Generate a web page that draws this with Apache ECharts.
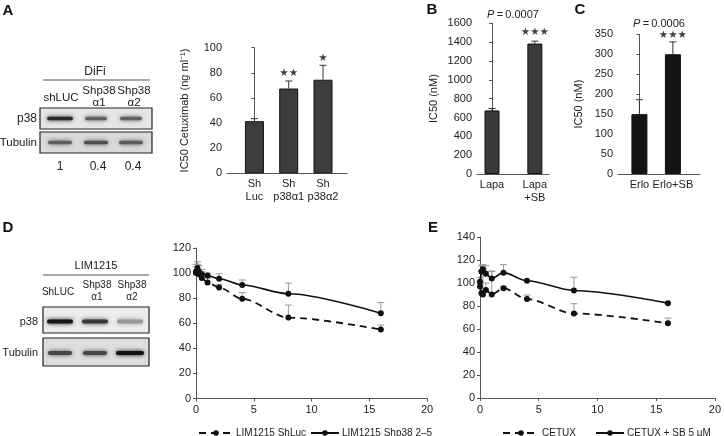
<!DOCTYPE html>
<html><head><meta charset="utf-8">
<script src="https://cdn.jsdelivr.net/npm/echarts@6/dist/echarts.min.js"></script>
<style>html,body{margin:0;padding:0;background:#fff}#c{width:724px;height:436px}</style>
</head><body><div id="c"></div>
<script>
// ---------- DATA ----------
// Panel A (DiFi) bar chart
const aCategories = ['Sh\nLuc', 'Sh\np38α1', 'Sh\np38α2'];
const aValues = [41.5, 67.5, 74.5];
const aErrTop = [43.5, 73.5, 86];
const aStars = ['', '★★', '★'];
const aStarY = [null, 80, 91.5];
// Panel B
const bCategories = ['Lapa', 'Lapa\n+SB'];
const bValues = [675, 1385];
const bErrTop = [695, 1410];
const bStars = ['', '★★★'];
const bStarY = [null, 1500];
const bPText = '0.0007';
// Panel C
const cCategories = ['Erlo', 'Erlo+SB'];
const cValues = [150, 300];
const cErrTop = [186, 331];
const cStars = ['', '★★★'];
const cStarY = [null, 348];
const cPText = '0.0006';
// Panel D (LIM1215 dose response)
const dDose = [0, 0.125, 0.25, 0.5, 1, 2, 4, 8, 16];
const dShLuc = [100, 102, 99, 96, 92.5, 88.5, 79.5, 64.5, 55];
const dShLucErr = [105, 107, 103, 101, 96, 91, 84.5, 74.5, 58.5];
const dShp38 = [101, 104, 101, 99, 98, 95.5, 90.5, 83.5, 68];
const dShp38Err = [107, 109, 106, 103, 100, 99.5, 94.5, 92, 76.5];
// Panel E
const eDose = [0, 0.125, 0.25, 0.5, 1, 2, 4, 8, 16];
const eCetux = [97, 91, 90, 94, 90, 95.5, 86, 73.5, 65];
const eCetuxErr = [101, 110, 111, 100, 110.5, 97, 89.5, 82, 69.5];
const eCetuxSB = [101, 110, 112, 108, 104, 109, 102, 93.5, 82.5];
const eCetuxSBErr = [105, 115, 116, 115, 110, 116, 102, 105, 83];
// Western blots
const difiLanes = ['shLUC', 'Shp38\nα1', 'Shp38\nα2'];
const difiP38 = [0.85, 0.6, 0.6];
const difiTub = [0.6, 0.68, 0.62];
const difiRatio = ['1', '0.4', '0.4'];
const limLanes = ['ShLUC', 'Shp38\nα1', 'Shp38\nα2'];
const limP38 = [0.95, 0.78, 0.35];
const limTub = [0.72, 0.72, 0.97];

// ---------- HELPERS ----------
const F = '"Liberation Sans", Arial, Helvetica, sans-serif';
const AX = '#555';
const graphics = [];
function txt(x, y, s, o) {
  graphics.push({type: 'text', x, y, z: 10, style: Object.assign({text: s, fill: '#222', fontFamily: F, fontSize: 11, align: 'center', verticalAlign: 'middle'}, o || {})});
}
function ln(x1, y1, x2, y2, c, w) {
  graphics.push({type: 'line', z: 10, shape: {x1, y1, x2, y2}, style: {stroke: c || '#444', lineWidth: w || 1}});
}
function box(x, y, w, h, fill) {
  graphics.push({type: 'rect', z: 9, shape: {x, y, width: w, height: h}, style: {fill, stroke: '#222', lineWidth: 1.2}});
}
function gray(i) { const v = Math.round(225 - i * 215); return 'rgb(' + v + ',' + v + ',' + v + ')'; }
function band(cx, cy, w, h, i) {
  const c = gray(i);
  graphics.push({type: 'rect', z: 10, shape: {x: cx - w / 2, y: cy - h / 2, width: w, height: h, r: h / 2}, style: {fill: c, shadowBlur: 4, shadowColor: c}});
}
function errRender(color, cap) {
  return function (params, api) {
    const x = api.value(0), y = api.value(1), t = api.value(2);
    if (!(t > y)) return null;
    const p0 = api.coord([x, y]), p1 = api.coord([x, t]);
    return {type: 'group', children: [
      {type: 'line', shape: {x1: p0[0], y1: p0[1], x2: p1[0], y2: p1[1]}, style: {stroke: color, lineWidth: 1}},
      {type: 'line', shape: {x1: p1[0] - cap, y1: p1[1], x2: p1[0] + cap, y2: p1[1]}, style: {stroke: color, lineWidth: 1}}
    ]};
  };
}
function yAxis(gi, max, interval, name, nameGap) {
  return {type: 'value', gridIndex: gi, min: 0, max, interval, name, nameLocation: 'middle', nameGap, nameRotate: 90,
    nameTextStyle: {fontFamily: F, fontSize: 11, color: '#222'},
    axisLine: {show: true, lineStyle: {color: AX, width: 1}},
    axisTick: {show: true, length: 3, lineStyle: {color: AX}},
    axisLabel: {color: '#222', fontFamily: F, fontSize: 11, margin: 5, formatter: v => String(v)},
    splitLine: {show: false}};
}
function catXAxis(gi, min, max, cats) {
  return {type: 'value', gridIndex: gi, min, max,
    axisLine: {show: true, lineStyle: {color: AX, width: 1}},
    axisTick: {show: false},
    splitLine: {show: false},
    axisLabel: {customValues: cats.map((c, i) => i), formatter: v => cats[Math.round(v)] || '',
      color: '#222', fontFamily: F, fontSize: 11, lineHeight: 13, margin: 4}};
}
function numXAxis(gi) {
  return {type: 'value', gridIndex: gi, min: 0, max: 20, interval: 5,
    axisLine: {show: true, lineStyle: {color: AX, width: 1}},
    axisTick: {show: true, length: 3, lineStyle: {color: AX}},
    splitLine: {show: false},
    axisLabel: {color: '#222', fontFamily: F, fontSize: 11, margin: 6, formatter: v => String(v)}};
}
function barSeries(gi, vals, color, w) {
  return {type: 'bar', xAxisIndex: gi, yAxisIndex: gi, barWidth: w, data: vals.map((v, i) => [i, v]),
    itemStyle: {color, borderColor: '#111', borderWidth: 1}, silent: true, animation: false};
}
function barErr(gi, vals, tops) {
  return {type: 'custom', xAxisIndex: gi, yAxisIndex: gi, renderItem: errRender('#333', 3.5), z: 3,
    data: vals.map((v, i) => [i, v, tops[i]]), silent: true, animation: false};
}
function starSeries(gi, stars, ys) {
  const data = [];
  stars.forEach((s, i) => { if (s) data.push({name: s, value: [i, ys[i]]}); });
  return {type: 'scatter', xAxisIndex: gi, yAxisIndex: gi, symbolSize: 1, itemStyle: {color: 'rgba(0,0,0,0)'},
    label: {show: true, position: 'inside', formatter: p => p.name, fontSize: 10.5, color: '#111', fontFamily: '"DejaVu Sans", sans-serif'},
    data, silent: true, animation: false};
}
function lineErr(gi, x, tops, vals) {
  return {type: 'custom', xAxisIndex: gi, yAxisIndex: gi, renderItem: errRender('#999', 3.5), z: 1,
    data: x.map((d, i) => [d, vals[i], tops[i]]), silent: true, animation: false};
}
function lineSeries(gi, name, x, vals, dashed) {
  return {type: 'line', name, xAxisIndex: gi, yAxisIndex: gi, data: x.map((d, i) => [d, vals[i]]),
    smooth: 0.3, smoothMonotone: 'x', symbol: 'circle', symbolSize: 6, z: 5,
    itemStyle: {color: '#111'}, lineStyle: {color: '#111', width: dashed ? 1.8 : 1.6, type: dashed ? [7, 5] : 'solid'},
    silent: true, animation: false};
}
function legend(left, w, name) {
  return {left, top: 423, itemWidth: w, itemHeight: 7, itemGap: 0, data: [name], selectedMode: false,
    textStyle: {fontFamily: F, fontSize: 10, color: '#222', padding: [0, 0, 0, -2]}};
}

// ---------- BLOTS & LABELS ----------
txt(8, 11, 'A', {fontSize: 15, fontWeight: 'bold', fill: '#111'});
txt(432, 10, 'B', {fontSize: 15, fontWeight: 'bold', fill: '#111'});
txt(580, 10, 'C', {fontSize: 15, fontWeight: 'bold', fill: '#111'});
txt(8, 228, 'D', {fontSize: 15, fontWeight: 'bold', fill: '#111'});
txt(433, 228, 'E', {fontSize: 15, fontWeight: 'bold', fill: '#111'});

// DiFi blot
const difiX = [60, 96, 131];
txt(95, 72, 'DiFi', {fontSize: 12});
ln(43, 80, 150, 80, '#555', 1);
difiLanes.forEach((s, i) => txt(i ? difiX[i] + 3 : 61, i ? 96.5 : 98, s, {fontSize: 11.5, lineHeight: 12}));
box(40, 108, 112, 21, '#e6e6e6');
box(40, 132, 112, 21, '#dadada');
txt(37, 118.5, 'p38', {align: 'right', fontSize: 12});
txt(37, 142.5, 'Tubulin', {align: 'right', fontSize: 11.5});
difiP38.forEach((v, i) => band(difiX[i], 118.5, i ? 22 : 26, 3.5, v));
difiTub.forEach((v, i) => band(difiX[i], 142.5, 24, 3.5, v));
difiRatio.forEach((s, i) => txt(difiX[i] + (i ? 2 : 0), 167, s, {fontSize: 12}));

// LIM1215 blot
const limX = [60, 95, 130];
txt(96, 266, 'LIM1215', {fontSize: 11});
ln(43, 275, 149, 275, '#555', 1);
limLanes.forEach((s, i) => txt(i ? limX[i] + 2 : 58, i ? 291 : 292, s, {fontSize: 10, lineHeight: 12}));
box(43, 307, 106, 26, '#ececec');
box(43, 338, 106, 28, '#dedede');
txt(38, 322, 'p38', {align: 'right', fontSize: 11});
txt(38, 353, 'Tubulin', {align: 'right', fontSize: 11});
limP38.forEach((v, i) => band(limX[i], 321.5, 26, 4, v));
limTub.forEach((v, i) => band(limX[i], 353, i === 2 ? 28 : 24, 4, v));

// P values
txt(513, 15, '{i|P}\u2009=\u2009' + bPText, {fontSize: 11, rich: {i: {fontStyle: 'italic', fontSize: 11, fontFamily: F}}});
txt(659, 24, '{i|P}\u2009=\u2009' + cPText, {fontSize: 11, rich: {i: {fontStyle: 'italic', fontSize: 11, fontFamily: F}}});

// ---------- CHART ----------
const chart = echarts.init(document.getElementById('c'), null, {renderer: 'canvas'});
chart.setOption({
  animation: false,
  backgroundColor: '#fff',
  textStyle: {fontFamily: F},
  grid: [
    {left: 227, top: 47.7, width: 120, height: 125.6},
    {left: 477, top: 23.3, width: 72, height: 150.7},
    {left: 618, top: 34.3, width: 82, height: 139.7},
    {left: 196, top: 248, width: 231, height: 150.5},
    {left: 480, top: 237, width: 235, height: 161}
  ],
  xAxis: [
    catXAxis(0, -0.8, 2.7, aCategories),
    catXAxis(1, -0.35, 1.33, bCategories),
    catXAxis(2, -0.64, 1.81, cCategories),
    numXAxis(3),
    numXAxis(4)
  ],
  yAxis: [
    yAxis(0, 100, 20, 'IC50 Cetuximab (ng ml⁻¹)', 37),
    yAxis(1, 1600, 200, 'IC50 (nM)', 38),
    yAxis(2, 350, 50, 'IC50 (nM)', 34),
    yAxis(3, 120, 20, '', 0),
    yAxis(4, 140, 20, '', 0)
  ],
  legend: [
    legend(193, 34, 'LIM1215 ShLuc'),
    legend(305, 28, 'LIM1215 Shp38 2–5'),
    legend(497, 36, 'CETUX'),
    legend(590, 28, 'CETUX + SB 5 μM')
  ],
  graphic: {elements: graphics},
  series: [
    barSeries(0, aValues, '#3d3d3d', 19), barErr(0, aValues, aErrTop), starSeries(0, aStars, aStarY),
    barSeries(1, bValues, '#3a3a3a', 15), barErr(1, bValues, bErrTop), starSeries(1, bStars, bStarY),
    barSeries(2, cValues, '#141414', 16), barErr(2, cValues, cErrTop), starSeries(2, cStars, cStarY),
    lineErr(3, dDose, dShLucErr, dShLuc), lineErr(3, dDose, dShp38Err, dShp38),
    lineSeries(3, 'LIM1215 ShLuc', dDose, dShLuc, true), lineSeries(3, 'LIM1215 Shp38 2–5', dDose, dShp38, false),
    lineErr(4, eDose, eCetuxErr, eCetux), lineErr(4, eDose, eCetuxSBErr, eCetuxSB),
    lineSeries(4, 'CETUX', eDose, eCetux, true), lineSeries(4, 'CETUX + SB 5 μM', eDose, eCetuxSB, false)
  ]
});
</script></body></html>
